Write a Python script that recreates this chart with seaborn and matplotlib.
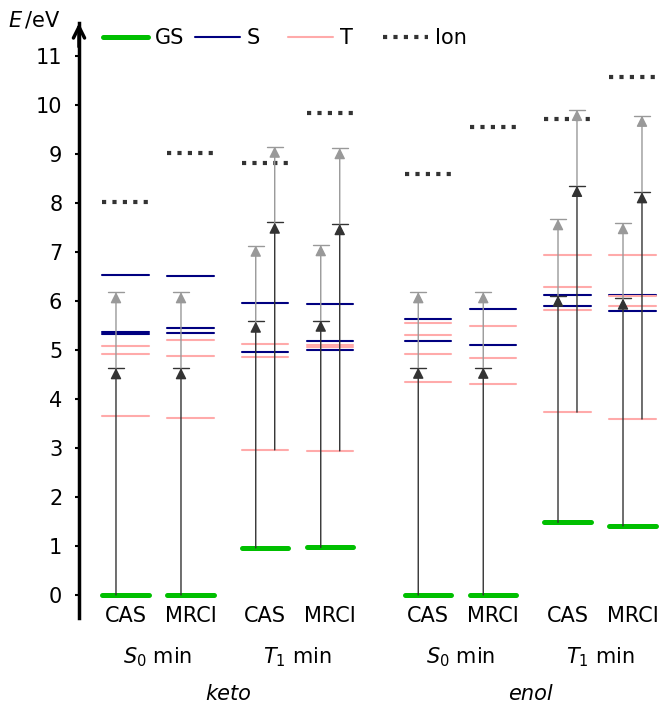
import numpy as np
import pandas as pd
import matplotlib
matplotlib.use('Agg')
import matplotlib.pyplot as plt
import seaborn as sns
from matplotlib.lines import Line2D

# Columnas del diagrama: molécula, geometría y método
molecules = ['keto', 'keto', 'keto', 'keto', 'enol', 'enol', 'enol', 'enol']
geometries = [r'$S_0$ min', r'$S_0$ min', r'$T_1$ min', r'$T_1$ min',
              r'$S_0$ min', r'$S_0$ min', r'$T_1$ min', r'$T_1$ min']
methods = ['CAS', 'MRCI', 'CAS', 'MRCI', 'CAS', 'MRCI', 'CAS', 'MRCI']

# Niveles de energía (eV)
gs_levels = [0.0, 0.0, 0.96, 0.97, 0.0, 0.0, 1.48, 1.41]
s_levels = [[6.52, 5.37, 5.32], [6.50, 5.44, 5.34], [5.96, 4.95], [5.93, 5.19, 4.99],
            [5.63, 5.19], [5.84, 5.11], [6.12, 5.89], [6.13, 5.80]]
t_levels = [[5.07, 4.92, 3.65], [5.21, 4.88, 3.61], [5.12, 4.85, 2.96], [5.11, 5.05, 2.94],
            [5.54, 5.31, 4.92, 4.35], [5.49, 4.83, 4.30], [6.94, 6.29, 5.81, 3.73],
            [6.94, 6.11, 5.89, 3.59]]
ion_levels = [8.02, 9.02, 8.82, 9.83, 8.58, 9.54, 9.71, 10.57]

# Flechas desde el estado fundamental (bomba -> sonda)
pump_gs_end = [4.63, 4.63, 5.58, 5.60, 4.64, 4.64, 6.11, 6.05]
probe_gs_end = [6.18, 6.18, 7.13, 7.14, 6.18, 6.18, 7.67, 7.59]
# Flechas desde T1 (solo columnas de geometría T1)
t1_cols = [2, 3, 6, 7]
pump_t1_start = [2.96, 2.94, 3.73, 3.59]
pump_t1_end = [7.60, 7.57, 8.35, 8.22]
probe_t1_end = [9.15, 9.12, 9.90, 9.78]

# Posiciones en x de cada columna
x_pos = [0, 1, 2.15, 3.15, 4.65, 5.65, 6.8, 7.8]
half = 0.355
off = 0.146
bar = 0.123

colors = {'GS': '#00bf00', 'S': '#000080', 'T': '#ffaaaa', 'Ion': '#333333'}
widths = {'GS': 3.6, 'S': 1.5, 'T': 1.5, 'Ion': 3.0}
dashes = {'GS': '', 'S': '', 'T': '', 'Ion': (1, 1.5)}
pump_color = '#333333'
probe_color = '#999999'

# Tabla larga con cada nivel como segmento horizontal
rows = []
uid = 0
for i, x in enumerate(x_pos):
    niveles = [('Ion', ion_levels[i]), ('GS', gs_levels[i])]
    niveles += [('S', e) for e in s_levels[i]]
    niveles += [('T', e) for e in t_levels[i]]
    for kind, e in niveles:
        rows.append({'x': x - half, 'E': e, 'kind': kind, 'id': uid})
        rows.append({'x': x + half, 'E': e, 'kind': kind, 'id': uid})
        uid += 1
df = pd.DataFrame(rows)

sns.set_theme(style='white')
plt.rcParams['font.family'] = ['DejaVu Sans']
plt.rcParams['mathtext.fontset'] = 'dejavusans'
plt.rcParams['text.color'] = 'black'
plt.rcParams['xtick.color'] = 'black'
plt.rcParams['ytick.color'] = 'black'
plt.rcParams['axes.labelcolor'] = 'black'

fig = plt.figure(figsize=(6.65, 7.04), dpi=100)
ax = fig.add_axes([79 / 665, 86 / 704, 1 - 79 / 665, 595 / 704])

order = ['Ion', 'GS', 'S', 'T']
sns.lineplot(data=df, x='x', y='E', hue='kind', size='kind', style='kind', units='id',
             estimator=None, sort=False, hue_order=order, size_order=order, style_order=order,
             palette=colors, sizes=widths, dashes=dashes, legend=False, ax=ax)


def flecha(x, y0, y1, c):
    ax.annotate('', xy=(x, y1), xytext=(x, y0),
                arrowprops=dict(arrowstyle='-|>,head_length=0.5,head_width=0.25', color=c,
                                lw=1.0, shrinkA=0, shrinkB=0, mutation_scale=13), zorder=5)
    ax.plot([x - bar, x + bar], [y1, y1], color=c, lw=1.0, zorder=5)


for i, x in enumerate(x_pos):
    flecha(x - off, gs_levels[i], pump_gs_end[i], pump_color)
    flecha(x - off, pump_gs_end[i], probe_gs_end[i], probe_color)
for j, i in enumerate(t1_cols):
    x = x_pos[i] + off
    flecha(x, pump_t1_start[j], pump_t1_end[j], pump_color)
    flecha(x, pump_t1_end[j], probe_t1_end[j], probe_color)

# Ejes
ax.set_xlim(-0.715, 8.3)
ax.set_ylim(-0.47, 11.67)
for s in ['top', 'right', 'bottom']:
    ax.spines[s].set_visible(False)
ax.spines['left'].set_color('black')
ax.spines['left'].set_linewidth(2.5)
ax.annotate('', xy=(0, 1.0), xycoords='axes fraction', xytext=(0, 0.96),
            arrowprops=dict(arrowstyle='->', color='black', lw=2.5, shrinkA=0, shrinkB=0,
                            mutation_scale=20), annotation_clip=False)
ax.set_yticks(range(12))
ax.tick_params(axis='y', direction='out', length=3, width=1.5, color='black',
               labelcolor='black', labelsize=15, pad=9, left=True)
ax.set_xticks(x_pos)
ax.set_xticklabels(methods, fontsize=15)
ax.tick_params(axis='x', length=0, pad=-9, labelcolor='black')
ax.set_xlabel('')
ax.set_ylabel('')

trans = ax.get_xaxis_transform()
for k in range(0, 8, 2):
    ax.text((x_pos[k] + x_pos[k + 1]) / 2, -0.0655, geometries[k], transform=trans,
            ha='center', va='center', fontsize=15, color='black')
for k in range(0, 8, 4):
    ax.text(np.mean(x_pos[k:k + 4]), -0.128, molecules[k], transform=trans,
            ha='center', va='center', fontsize=15, style='italic', color='black')

fig.text(8 / 665, 1 - 20 / 704, r'$E\,$/eV', fontsize=15, ha='left', va='center',
         color='black')

# Leyenda: una entrada por columna fija
entradas = [('GS', 103), ('S', 195), ('T', 288), ('Ion', 383)]
for kind, px in entradas:
    h = Line2D([], [], color=colors[kind], lw=widths[kind],
               linestyle=(0, dashes[kind]) if dashes[kind] else '-')
    fig.legend([h], [kind], loc='center left', bbox_to_anchor=(px / 665, 1 - 38 / 704),
               frameon=False, fontsize=15, handlelength=2.16, handletextpad=0.34,
               borderpad=0, borderaxespad=0, labelcolor='black')

fig.savefig('out.png', dpi=100)
